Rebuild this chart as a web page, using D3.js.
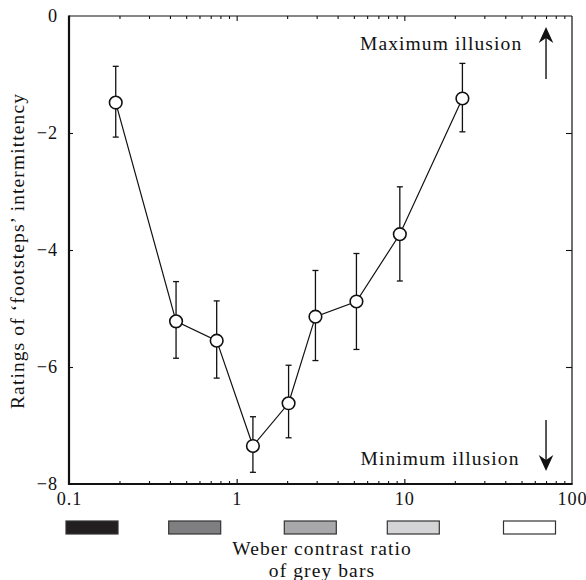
<!DOCTYPE html>
<html><head><meta charset="utf-8">
<script src="https://cdn.jsdelivr.net/npm/d3@7"></script>
<style>
html,body{margin:0;padding:0;background:#fff;}
text{font-family:"Liberation Serif","Times New Roman",serif;fill:#111;}
</style></head>
<body>
<svg id="c" width="586" height="580"></svg>
<script>
// ---- data ----
const contrast = [0.19, 0.435, 0.76, 1.25, 2.04, 2.95, 5.18, 9.4, 22.2];
const rating   = [-1.48, -5.22, -5.55, -7.35, -6.62, -5.14, -4.88, -3.73, -1.41];
const errUpper = [-0.86, -4.54, -4.87, -6.85, -5.97, -4.35, -4.06, -2.92, -0.81];
const errLower = [-2.07, -5.85, -6.19, -7.80, -7.21, -5.89, -5.70, -4.53, -1.98];
const yTicks = [0, -2, -4, -6, -8];
const xTicks = [0.1, 1, 10, 100];
const xTickLabels = ["0.1", "1", "10", "100"];
const barColors = ["#231f20", "#7f7f82", "#a8a8aa", "#d4d4d6", "#ffffff"];
const xLabelLines = ["Weber contrast ratio", "of grey bars"];
const yLabel = "Ratings of \u2018footsteps\u2019 intermittency";
const topNote = "Maximum illusion";
const bottomNote = "Minimum illusion";

// ---- layout ----
const L = 69, R = 572, T = 16, B = 484;
const FS = 19.5, LS = 1.1;       // titles / notes
const TFS = 18.2, TLS = 0.9;     // tick labels
const barCentersPx = [92, 194.7, 310.3, 413.3, 529.5];
const barW = 52, barY = 521, barH = 13;

const svg = d3.select("#c");
const x = d3.scaleLog().domain([0.1, 100]).range([L, R]);
const y = d3.scaleLinear().domain([-8, 0]).range([B, T]);

const minorTicks = [];
for (let d = 0.1; d < 100; d *= 10) for (let k = 2; k <= 9; k++) minorTicks.push(+(d * k).toPrecision(3));

function styleText(g){ g.selectAll("text").style("font-size", TFS + "px").style("letter-spacing", TLS + "px").attr("fill", "#111"); }

// bottom axis (major, labelled)
const gB = svg.append("g").attr("transform", `translate(0,${B})`)
  .call(d3.axisBottom(x).tickValues(xTicks).tickFormat((d,i)=>xTickLabels[i]).tickSize(-5).tickPadding(8.5));
gB.select(".domain").remove();
gB.selectAll("line").attr("stroke", "#111").attr("stroke-width", 1.2);
styleText(gB);
gB.selectAll(".tick").filter(d => d === 0.1 || d === 100).select("line").remove();
// bottom minor
const gBm = svg.append("g").attr("transform", `translate(0,${B})`)
  .call(d3.axisBottom(x).tickValues(minorTicks).tickFormat("").tickSize(-3));
gBm.select(".domain").remove();
gBm.selectAll("line").attr("stroke", "#111").attr("stroke-width", 1.1);
// top ticks
const gT = svg.append("g").attr("transform", `translate(0,${T})`)
  .call(d3.axisTop(x).tickValues(xTicks.slice(1, 3)).tickFormat("").tickSize(-5));
gT.select(".domain").remove();
gT.selectAll("line").attr("stroke", "#111").attr("stroke-width", 1.1);
const gTm = svg.append("g").attr("transform", `translate(0,${T})`)
  .call(d3.axisTop(x).tickValues(minorTicks).tickFormat("").tickSize(-3));
gTm.select(".domain").remove();
gTm.selectAll("line").attr("stroke", "#111").attr("stroke-width", 1.1);

// left axis
const gL = svg.append("g").attr("transform", `translate(${L},0)`)
  .call(d3.axisLeft(y).tickValues(yTicks).tickFormat(d3.format("d")).tickSize(-4).tickPadding(11));
gL.select(".domain").remove();
gL.selectAll("line").attr("stroke", "#111").attr("stroke-width", 1.1);
gL.selectAll(".tick").filter(d => d === 0 || d === -8).select("line").remove();
styleText(gL);
gL.selectAll("text").attr("dy", "0.3em");
// right axis
const gR = svg.append("g").attr("transform", `translate(${R},0)`)
  .call(d3.axisRight(y).tickValues(yTicks.slice(1, 4)).tickFormat("").tickSize(-6));
gR.select(".domain").remove();
gR.selectAll("line").attr("stroke", "#111").attr("stroke-width", 1.1);

// frame
svg.append("line").attr("x1", L).attr("x2", R).attr("y1", T).attr("y2", T).attr("stroke", "#111").attr("stroke-width", 1.2);
svg.append("line").attr("x1", R).attr("x2", R).attr("y1", T).attr("y2", B).attr("stroke", "#111").attr("stroke-width", 1.2);
svg.append("line").attr("x1", L).attr("x2", L).attr("y1", T - 0.6).attr("y2", B + 1).attr("stroke", "#111").attr("stroke-width", 2.2);
svg.append("line").attr("x1", L - 1).attr("x2", R + 0.6).attr("y1", B).attr("y2", B).attr("stroke", "#111").attr("stroke-width", 2.2);

// data
const data = contrast.map((c, i) => ({c, r: rating[i], hi: errUpper[i], lo: errLower[i]}));
const eb = svg.append("g").attr("stroke", "#111").attr("stroke-width", 1.3);
data.forEach(d => {
  eb.append("line").attr("x1", x(d.c)).attr("x2", x(d.c)).attr("y1", y(d.hi)).attr("y2", y(d.lo));
  eb.append("line").attr("x1", x(d.c) - 3).attr("x2", x(d.c) + 3).attr("y1", y(d.hi)).attr("y2", y(d.hi));
  eb.append("line").attr("x1", x(d.c) - 3).attr("x2", x(d.c) + 3).attr("y1", y(d.lo)).attr("y2", y(d.lo));
});
svg.append("path").datum(data)
  .attr("d", d3.line().x(d => x(d.c)).y(d => y(d.r)))
  .attr("fill", "none").attr("stroke", "#111").attr("stroke-width", 1.2);
svg.append("g").selectAll("circle").data(data).join("circle")
  .attr("cx", d => x(d.c)).attr("cy", d => y(d.r)).attr("r", 6.3)
  .attr("fill", "#fff").attr("stroke", "#111").attr("stroke-width", 1.6);

// annotations
function txt(s, xx, yy, anchor){
  return svg.append("text").attr("x", xx).attr("y", yy).attr("text-anchor", anchor || "start")
    .style("font-size", FS + "px").style("letter-spacing", LS + "px").text(s);
}
txt(topNote, 360, 50);
txt(bottomNote, 360.5, 465);
const ax = x(70);
function arrow(y0, y1){ // y1 = tip
  const dir = y1 < y0 ? 1 : -1;
  svg.append("line").attr("x1", ax).attr("x2", ax).attr("y1", y0).attr("y2", y1 + dir * 8).attr("stroke", "#111").attr("stroke-width", 1.4);
  svg.append("path").attr("d", `M${ax},${y1} L${ax - 7.3},${y1 + dir * 16} L${ax},${y1 + dir * 11} L${ax + 7.3},${y1 + dir * 16} Z`).attr("fill", "#111");
}
arrow(79, 27);
arrow(420, 471);

// grey bars
svg.append("g").selectAll("rect").data(barColors).join("rect")
  .attr("x", (d, i) => barCentersPx[i] - barW / 2).attr("y", barY).attr("width", barW).attr("height", barH)
  .attr("fill", d => d).attr("stroke", "#333").attr("stroke-width", 1.2);

// axis titles
txt(xLabelLines[0], 322, 555, "middle");
txt(xLabelLines[1], 322, 577, "middle");
svg.append("text").attr("transform", `translate(24,251) rotate(-90)`).attr("text-anchor", "middle")
  .style("font-size", FS + "px").style("letter-spacing", LS + "px").text(yLabel);
</script>
</body></html>
